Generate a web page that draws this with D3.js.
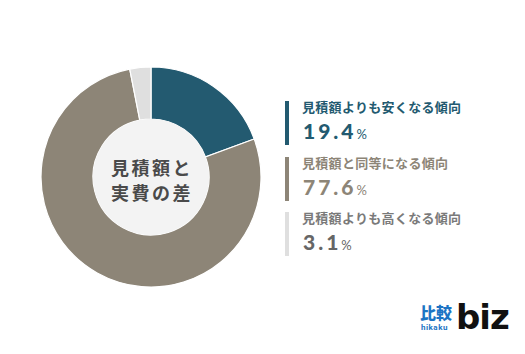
<!DOCTYPE html>
<html>
<head>
<meta charset="utf-8">
<script src="https://cdn.jsdelivr.net/npm/d3@7"></script>
<style>
  body { margin: 0; background: #fff; }
  svg { display: block; font-family: "Noto Sans CJK JP", "Noto Sans", sans-serif; }
</style>
</head>
<body>
<div id="chart"></div>
<script>
// data
var labels = ['見積額よりも安くなる傾向', '見積額と同等になる傾向', '見積額よりも高くなる傾向']
var values = [19.4, 77.6, 3.1]
var colors = ['#235a70', '#8d8577', '#dfdfdf']
var labelColors = ['#235a70', '#8d8577', '#7a7a7a']
var valueColors = ['#235a70', '#8d8577', '#666666']

var width = 525, height = 354
var cx = 151, cy = 177, outerR = 110, innerR = 58

var svg = d3.select('#chart')
  .append('svg')
  .attr('width', width)
  .attr('height', height)

var g = svg.append('g')
  .attr('transform', 'translate(' + cx + ',' + cy + ')')

var pie = d3.pie().sort(null).value(function (d) { return d })
var arc = d3.arc().innerRadius(innerR).outerRadius(outerR)

g.selectAll('path')
  .data(pie(values))
  .enter()
  .append('path')
  .attr('d', arc)
  .attr('fill', function (d, i) { return colors[i] })
  .attr('stroke', '#fff')
  .attr('stroke-width', 1.2)

g.append('circle')
  .attr('r', innerR)
  .attr('fill', '#f3f3f3')

// center title
var title = ['見積額と', '実費の差']
g.selectAll('.title')
  .data(title)
  .enter()
  .append('text')
  .attr('class', 'title')
  .attr('text-anchor', 'middle')
  .attr('x', 1)
  .attr('y', function (d, i) { return -2 + i * 25 })
  .attr('fill', '#4a4a4a')
  .style('font-size', '18px')
  .style('font-weight', '600')
  .style('letter-spacing', '2.5px')
  .text(function (d) { return d })

// legend
var legend = svg.append('g')
var blockTop = [101, 157, 212]

labels.forEach(function (lab, i) {
  var top = blockTop[i]
  legend.append('rect')
    .attr('x', 285)
    .attr('y', top)
    .attr('width', 4)
    .attr('height', 44)
    .attr('fill', colors[i])

  legend.append('text')
    .attr('x', 302)
    .attr('y', top + 11)
    .attr('fill', labelColors[i])
    .style('font-size', '13px')
    .style('font-weight', '600')
    .style('letter-spacing', '0.3px')
    .text(lab)

  var t = legend.append('text')
    .attr('x', 303)
    .attr('y', top + 38)
    .attr('fill', valueColors[i])
    .style('font-family', 'Lato, "Noto Sans", sans-serif')
    .style('font-weight', '900')
  t.append('tspan')
    .style('font-size', '21px')
    .style('letter-spacing', '3px')
    .text(values[i].toFixed(1))
  t.append('tspan')
    .style('font-size', '13px')
    .style('font-weight', 'normal')
    .text('%')
})

// logo
var logo = svg.append('g')
logo.append('text')
  .attr('x', 420)
  .attr('y', 319)
  .attr('fill', '#1c74c4')
  .style('font-size', '16px')
  .style('font-weight', '900')
  .text('比較')
logo.append('text')
  .attr('x', 421)
  .attr('y', 330)
  .attr('fill', '#1c74c4')
  .style('font-family', 'Roboto, sans-serif')
  .style('font-size', '8px')
  .style('font-weight', 'bold')
  .style('letter-spacing', '0.5px')
  .text('hikaku')
logo.append('text')
  .attr('x', 456)
  .attr('y', 329)
  .attr('fill', '#111')
  .style('font-family', '"DejaVu Sans", sans-serif')
  .style('font-size', '34px')
  .style('font-weight', 'bold')
  .style('letter-spacing', '-1px')
  .text('biz')
</script>
</body>
</html>
